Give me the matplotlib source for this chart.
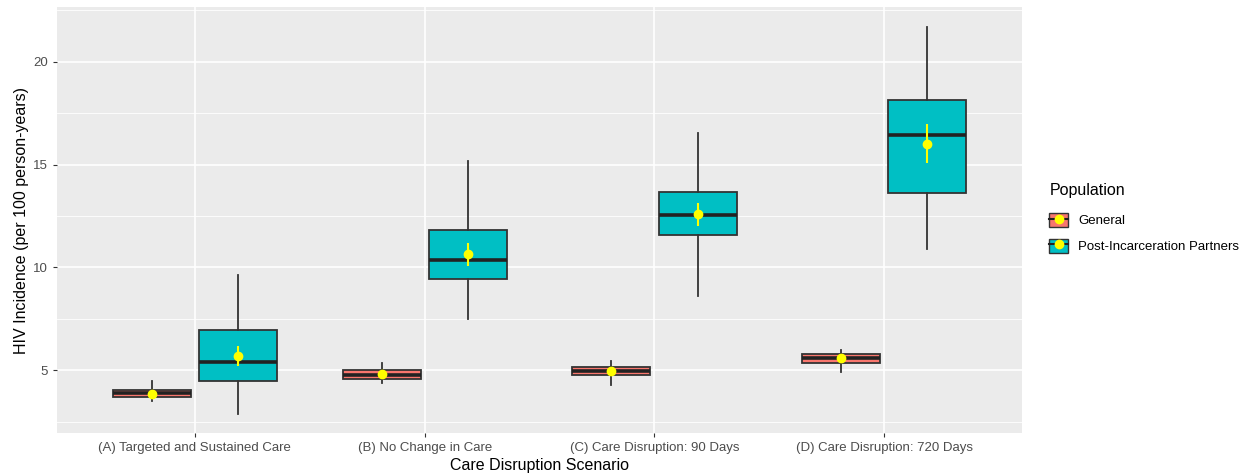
import matplotlib.pyplot as plt
from matplotlib.patches import Patch
from matplotlib.lines import Line2D
from matplotlib.legend_handler import HandlerTuple

plt.rcParams['font.family'] = ['Liberation Sans', 'DejaVu Sans']

scenarios = ["(A) Targeted and Sustained Care", "(B) No Change in Care",
             "(C) Care Disruption: 90 Days", "(D) Care Disruption: 720 Days"]
populations = ["General", "Post-Incarceration Partners"]
colors = ["#F8766D", "#00BFC4"]

# box stats: whisker low, q1, median, q3, whisker high
gen_whislo = [3.52, 4.37, 4.27, 4.90]
gen_q1 = [3.71, 4.56, 4.77, 5.35]
gen_med = [3.90, 4.80, 4.97, 5.58]
gen_q3 = [4.05, 5.00, 5.19, 5.81]
gen_whishi = [4.48, 5.34, 5.48, 5.97]
gen_mean = [3.87, 4.82, 4.97, 5.58]
gen_err = [0.05, 0.05, 0.05, 0.05]

pip_whislo = [2.90, 7.52, 8.63, 10.89]
pip_q1 = [4.48, 9.45, 11.56, 13.63]
pip_med = [5.42, 10.38, 12.53, 16.45]
pip_q3 = [6.98, 11.82, 13.66, 18.11]
pip_whishi = [9.64, 15.16, 16.55, 21.66]
pip_mean = [5.71, 10.63, 12.58, 16.02]
pip_err = [0.50, 0.56, 0.57, 0.93]

series = [
    (gen_whislo, gen_q1, gen_med, gen_q3, gen_whishi, gen_mean, gen_err),
    (pip_whislo, pip_q1, pip_med, pip_q3, pip_whishi, pip_mean, pip_err),
]

fig = plt.figure(figsize=(12.47, 4.76), dpi=100)
ax = fig.add_axes([0.0457, 0.0903, 0.774, 0.895])
ax.set_facecolor("#EBEBEB")

dark = "#333333"
offsets = [-0.1875, 0.1875]
for k, (wlo, q1, med, q3, whi, mean, err) in enumerate(series):
    stats = []
    for i in range(len(scenarios)):
        stats.append(dict(whislo=wlo[i], q1=q1[i], med=med[i], q3=q3[i],
                          whishi=whi[i], fliers=[]))
    pos = [i + 1 + offsets[k] for i in range(len(scenarios))]
    ax.bxp(stats, positions=pos, widths=0.34, patch_artist=True,
           showcaps=False, manage_ticks=False,
           boxprops=dict(facecolor=colors[k], edgecolor=dark, linewidth=1.3),
           whiskerprops=dict(color=dark, linewidth=1.3),
           medianprops=dict(color="#222222", linewidth=2.6), zorder=3)
    ax.errorbar(pos, mean, yerr=err, fmt="o", color="yellow", ms=6,
                elinewidth=1.5, capsize=0, zorder=5)

ax.set_xlim(0.4, 4.6)
ax.set_ylim(1.96, 22.65)
ax.set_xticks(range(1, len(scenarios) + 1))
ax.set_xticklabels(scenarios)
ax.set_yticks([5, 10, 15, 20])
ax.set_yticks([2.5, 7.5, 12.5, 17.5, 22.5], minor=True)
ax.grid(True, which="major", color="white", linewidth=1.2, zorder=0)
ax.grid(True, which="minor", axis="y", color="white", linewidth=0.6, zorder=0)
ax.set_axisbelow(True)
for s in ax.spines.values():
    s.set_visible(False)
ax.tick_params(axis="both", which="major", length=3, color=dark,
               labelsize=9.5, labelcolor="#4D4D4D")
ax.tick_params(axis="y", which="minor", length=0)

ax.set_xlabel("Care Disruption Scenario", fontsize=11.5, labelpad=3)
ax.set_ylabel("HIV Incidence (per 100 person-years)", fontsize=11.5, labelpad=3)

handles = []
for c in colors:
    handles.append((Patch(facecolor=c, edgecolor=dark, linewidth=1),
                    Line2D([], [], color="#222222", linewidth=1.5, marker="o",
                           mfc="yellow", mec="yellow", ms=6)))
leg = fig.legend(handles, populations, title="Population",
                 handler_map={tuple: HandlerTuple(ndivide=1)},
                 loc="center left", bbox_to_anchor=(0.832, 0.538),
                 frameon=False, fontsize=9.5, title_fontsize=11.5,
                 handlelength=1.4, handleheight=1.3, labelspacing=0.85,
                 alignment="left")
leg.get_title().set_position((0, 4))

fig.savefig("out.png", dpi=100)
